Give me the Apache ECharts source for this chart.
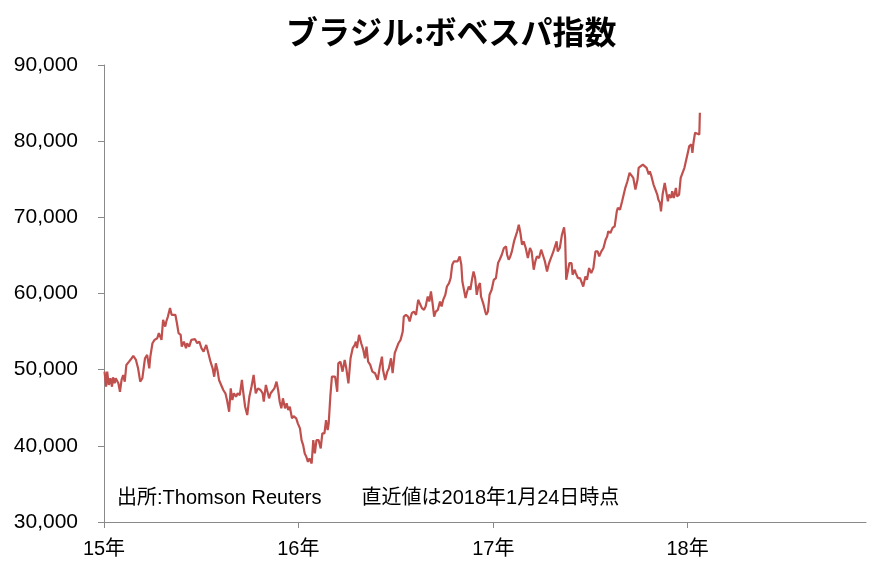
<!DOCTYPE html>
<html>
<head>
<meta charset="utf-8">
<script src="https://cdn.jsdelivr.net/npm/echarts@6/dist/echarts.min.js"></script>
<style>
  html, body { margin: 0; padding: 0; background: #fff; }
  #chart { width: 869px; height: 562px; }
</style>
</head>
<body>
<div id="chart"></div>
<script>
// ボベスパ指数 (終値, 図から読み取り)
const dates = [
  '2015-01-02','2015-01-05','2015-01-07','2015-01-10','2015-01-13','2015-01-16','2015-01-18','2015-01-21','2015-01-23','2015-01-28',
  '2015-01-31','2015-02-03','2015-02-06','2015-02-09','2015-02-12','2015-02-17','2015-02-22','2015-02-25','2015-03-02','2015-03-06',
  '2015-03-10','2015-03-14','2015-03-19','2015-03-23','2015-03-27','2015-03-29','2015-04-02','2015-04-06','2015-04-11','2015-04-14',
  '2015-04-19','2015-04-22','2015-04-26','2015-04-28','2015-05-01','2015-05-05','2015-05-08','2015-05-11','2015-05-15','2015-05-18',
  '2015-05-21','2015-05-25','2015-05-27','2015-05-31','2015-06-04','2015-06-06','2015-06-10','2015-06-14','2015-06-17','2015-06-21',
  '2015-06-25','2015-06-29','2015-07-03','2015-07-07','2015-07-12','2015-07-16','2015-07-20','2015-07-24','2015-07-27','2015-07-30',
  '2015-08-02','2015-08-05','2015-08-09','2015-08-13','2015-08-17','2015-08-20','2015-08-24','2015-08-27','2015-08-30','2015-09-02',
  '2015-09-06','2015-09-09','2015-09-13','2015-09-17','2015-09-19','2015-09-23','2015-09-27','2015-10-01','2015-10-05','2015-10-09',
  '2015-10-13','2015-10-17','2015-10-22','2015-10-26','2015-10-28','2015-11-01','2015-11-04','2015-11-07','2015-11-10','2015-11-13',
  '2015-11-17','2015-11-21','2015-11-24','2015-11-27','2015-11-30','2015-12-03','2015-12-07','2015-12-10','2015-12-13','2015-12-16',
  '2015-12-20','2015-12-23','2015-12-28','2015-12-31',
  '2016-01-04','2016-01-07','2016-01-10','2016-01-13','2016-01-16','2016-01-19','2016-01-22','2016-01-26','2016-01-29','2016-02-01',
  '2016-02-04','2016-02-08','2016-02-12','2016-02-15','2016-02-19','2016-02-22','2016-02-25','2016-02-27','2016-03-01','2016-03-04',
  '2016-03-06','2016-03-10','2016-03-14','2016-03-16','2016-03-20','2016-03-24','2016-03-28','2016-03-31','2016-04-04','2016-04-08',
  '2016-04-12','2016-04-16','2016-04-18','2016-04-20','2016-04-24','2016-04-28','2016-05-02','2016-05-05','2016-05-08','2016-05-11',
  '2016-05-15','2016-05-19','2016-05-24','2016-05-29','2016-06-02','2016-06-06','2016-06-08','2016-06-12','2016-06-16','2016-06-19',
  '2016-06-23','2016-06-26','2016-06-30','2016-07-03','2016-07-07','2016-07-11','2016-07-15','2016-07-17','2016-07-21','2016-07-25',
  '2016-07-28','2016-08-01','2016-08-05','2016-08-09','2016-08-13','2016-08-16','2016-08-20','2016-08-24','2016-08-27','2016-08-31',
  '2016-09-03','2016-09-06','2016-09-09','2016-09-12','2016-09-15','2016-09-19','2016-09-23','2016-09-26','2016-09-29','2016-10-03',
  '2016-10-06','2016-10-10','2016-10-13','2016-10-16','2016-10-19','2016-10-22','2016-10-26','2016-10-30','2016-11-02','2016-11-04',
  '2016-11-07','2016-11-10','2016-11-13','2016-11-16','2016-11-19','2016-11-22','2016-11-25','2016-11-28','2016-12-01','2016-12-04',
  '2016-12-07','2016-12-09','2016-12-13','2016-12-17','2016-12-19','2016-12-22','2016-12-25','2016-12-29',
  '2017-01-02','2017-01-06','2017-01-10','2017-01-13','2017-01-17','2017-01-21','2017-01-25','2017-01-27','2017-01-30','2017-02-02',
  '2017-02-05','2017-02-09','2017-02-12','2017-02-15','2017-02-18','2017-02-21','2017-02-24','2017-02-27','2017-03-03','2017-03-07',
  '2017-03-11','2017-03-14','2017-03-18','2017-03-21','2017-03-24','2017-03-28','2017-04-01','2017-04-03','2017-04-06','2017-04-08',
  '2017-04-12','2017-04-15','2017-04-17','2017-04-20','2017-04-23','2017-04-26','2017-04-30','2017-05-02','2017-05-06','2017-05-10',
  '2017-05-14','2017-05-16','2017-05-18','2017-05-20','2017-05-24','2017-05-28','2017-05-30','2017-06-03','2017-06-05','2017-06-09',
  '2017-06-13','2017-06-16','2017-06-19','2017-06-23','2017-06-26','2017-06-30','2017-07-04','2017-07-08','2017-07-12','2017-07-16',
  '2017-07-19','2017-07-23','2017-07-27','2017-07-31','2017-08-03','2017-08-05','2017-08-09','2017-08-13','2017-08-17','2017-08-21',
  '2017-08-23','2017-08-27','2017-08-31','2017-09-02','2017-09-06','2017-09-10','2017-09-14','2017-09-17','2017-09-21','2017-09-25',
  '2017-09-29','2017-10-01','2017-10-05','2017-10-09','2017-10-12','2017-10-16','2017-10-20','2017-10-22','2017-10-25','2017-10-29',
  '2017-11-01','2017-11-05','2017-11-07','2017-11-10','2017-11-12','2017-11-15','2017-11-19','2017-11-21','2017-11-25','2017-11-27',
  '2017-12-01','2017-12-03','2017-12-06','2017-12-10','2017-12-12','2017-12-16','2017-12-19','2017-12-22','2017-12-26','2017-12-28',
  '2018-01-02','2018-01-04','2018-01-08','2018-01-10','2018-01-12','2018-01-15','2018-01-18','2018-01-23','2018-01-24'
];

const values = [
  49740,47760,49740,47990,48870,47760,49000,48210,48870,48210,
  47100,48650,49300,48420,50620,51050,51500,51800,51280,50180,
  48420,48870,51500,51940,50180,51710,53470,53910,54130,54790,
  53910,56540,55660,56320,56970,58080,57200,57420,57200,56100,
  54790,54570,53030,53680,52820,53470,53030,53910,53680,54000,
  53470,53680,52820,52370,53250,52160,51050,50180,49080,50840,
  49960,48650,47990,47330,46900,46010,44470,47550,46010,46900,
  46450,46900,46670,48650,47330,45130,44040,46450,47760,49300,
  46900,47550,47330,46900,45790,47990,47760,46240,46900,46670,
  47550,48420,47330,45790,44920,46240,44920,45580,44700,45130,
  43610,43910,43610,42950,
  42290,40750,40090,39000,38550,37900,38340,37680,40750,39000,
  40750,40750,39660,41630,41630,43380,42070,42950,46450,49080,
  49300,49080,47100,50840,51050,49740,51280,50180,48210,51500,
  52820,53250,53680,52820,54570,53470,52590,51500,53030,51050,
  50620,49740,49530,48650,50400,51710,49960,48650,49740,50180,
  51500,49530,52160,52370,53470,53910,55000,56970,57200,56970,
  56320,57420,57630,57200,59170,59400,58080,57860,58290,59610,
  58950,60260,58740,56970,57630,57860,58950,58290,59170,59830,
  60920,61370,62030,63780,64210,64000,64210,64870,63780,61580,
  60490,59400,60260,60920,60490,61800,62900,62030,59830,60920,
  61370,59610,58740,57630,57200,57630,59830,60490,
  61800,62030,64000,64430,65090,65970,66180,65090,64430,64870,
  65530,66840,67070,68160,69040,67950,66410,66840,65970,64660,
  65970,65530,63120,64210,64870,64660,65750,65320,64660,64210,
  62900,63780,64210,64430,65320,65530,66840,65530,65970,67720,
  68680,67290,61800,61800,64000,64000,62460,63120,62680,62030,
  62030,61800,60920,62240,61800,63340,62680,63340,65530,65530,
  64870,65530,65970,67070,67500,68160,67950,68610,68820,70790,
  71240,71010,72110,72330,73870,74740,75840,76050,75180,73650,
  74960,76500,76710,76930,77030,76500,75620,76050,75400,74300,
  74080,72990,72330,71900,70790,72990,74530,74300,72110,72990,
  72550,73420,72550,73870,72760,72990,75180,75400,76500,76710,
  78680,79340,79570,78470,79790,81110,81320,80880,83740
];

const yearStarts = ['2015-01-01', '2016-01-01', '2017-01-01', '2018-01-01'];
const yearLabels = ['15年', '16年', '17年', '18年'];
const axisEnd = '2018-12-02';

const DAY = 86400000;
const origin = Date.parse(yearStarts[0]);
function dayOf(d) {
  return (Date.parse(d) - origin) / DAY;
}

const yearTicks = yearStarts.map(dayOf);
const seriesData = dates.map((d, i) => [dayOf(d), values[i]]);

const chart = echarts.init(document.getElementById('chart'), null, { renderer: 'canvas' });

const axisColor = '#898989';
const latinFont = '"Liberation Sans", "Noto Sans CJK JP", sans-serif';

chart.setOption({
  backgroundColor: '#ffffff',
  animation: false,
  title: [
    {
      text: 'ブラジル:ボベスパ指数',
      left: 281,
      top: 11,
      textStyle: {
        fontFamily: '"Noto Sans CJK JP", sans-serif',
        fontWeight: 'bold',
        fontSize: 32,
        color: '#000'
      }
    },
    {
      text: '出所:Thomson Reuters　　直近値は2018年1月24日時点',
      left: 112,
      top: 483,
      textStyle: {
        fontFamily: latinFont,
        fontWeight: 'normal',
        fontSize: 20,
        color: '#000'
      }
    }
  ],
  grid: {
    left: 104,
    right: 3,
    top: 65,
    bottom: 40,
    containLabel: false
  },
  xAxis: {
    type: 'value',
    min: 0,
    max: dayOf(axisEnd),
    splitLine: { show: false },
    axisLine: { show: true, onZero: false, lineStyle: { color: axisColor, width: 1 } },
    axisTick: {
      show: true,
      inside: false,
      length: 6,
      customValues: yearTicks,
      lineStyle: { color: axisColor }
    },
    axisLabel: {
      customValues: yearTicks,
      margin: 17,
      fontFamily: latinFont,
      fontSize: 20,
      color: '#000',
      formatter: function (v) {
        let i = yearTicks.indexOf(v);
        return i >= 0 ? yearLabels[i] : '';
      }
    }
  },
  yAxis: {
    type: 'value',
    min: 30000,
    max: 90000,
    interval: 10000,
    splitLine: { show: false },
    axisLine: { show: true, lineStyle: { color: axisColor, width: 1 } },
    axisTick: { show: true, inside: false, length: 6, lineStyle: { color: axisColor } },
    axisLabel: {
      margin: 26,
      fontFamily: latinFont,
      fontSize: 21,
      color: '#000',
      formatter: function (v) {
        return v.toLocaleString('en-US');
      }
    }
  },
  series: [
    {
      name: 'ボベスパ指数',
      type: 'line',
      data: seriesData,
      showSymbol: false,
      symbol: 'none',
      lineStyle: { color: '#C0504D', width: 2.2 },
      z: 3
    }
  ]
});
</script>
</body>
</html>
